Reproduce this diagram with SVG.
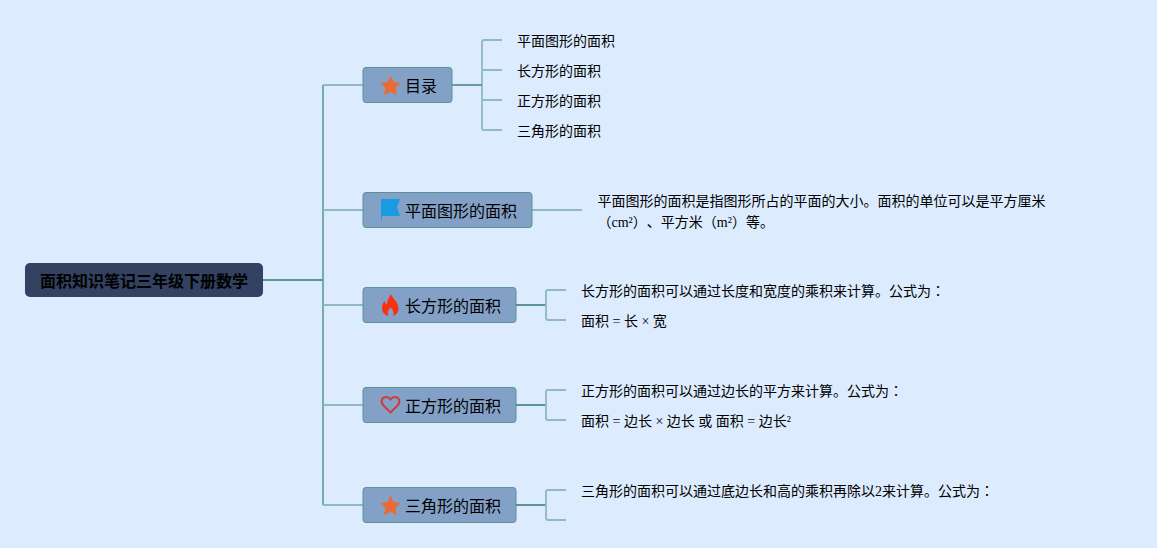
<svg xmlns="http://www.w3.org/2000/svg" width="1157" height="548" viewBox="0 0 1157 548">
<style>
text{font-family:"Liberation Serif","Noto Sans CJK JP",serif;fill:#000;text-spacing-trim:space-all}
.s{font-size:14px}
.m{font-size:16px}
.r{font-size:16px;font-weight:bold}
.n{fill:#83a1c7;stroke:#5b9193;stroke-width:1}
.c{fill:none;stroke-width:1.800}
.a{stroke:#8fbac0}
.b{stroke:#6aa5a0}
.d{stroke:#5a9490}
.st{fill:#e86b36;stroke:#e86b36;stroke-width:1;stroke-linejoin:round}
</style>
<rect width="1157" height="548" fill="#dcebfd"/>
<g id="connectors">
<path class="c b" d="M323 85V505"/>
<path class="c d" d="M263 280H323"/>
<path class="c a" d="M323 85H363M323 210H363M323 305H363M323 405H363M323 505H363"/>
<path class="c a" d="M502 40H484Q482 40 482 42V128Q482 130 484 130H502M482 70H502M482 100H502"/>
<path class="c d" d="M452 85H482"/>
<path class="c a" d="M532 210H582"/>
<path class="c d" d="M516 305H546M516 405H546M516 505H546"/>
<path class="c a" d="M566 290H548Q546 290 546 292V318Q546 320 548 320H566"/>
<path class="c a" d="M566 390H548Q546 390 546 392V418Q546 420 548 420H566"/>
<path class="c a" d="M566 490H548Q546 490 546 492V518Q546 520 548 520H566"/>
</g>
<g id="root"><rect x="25" y="263" width="238" height="34" rx="5" fill="#334260"/><text class="r" x="40" y="287">面积知识笔记三年级下册数学</text></g>
<g id="n1"><rect class="n" x="363" y="67.500" width="89" height="35" rx="3"/>
<path class="st" d="M390.500 76.500l2.800 6.100 6.600.8-4.900 4.500 1.300 6.600-5.800-3.300-5.800 3.300 1.300-6.600-4.900-4.500 6.600-.8z"/><text class="m" x="405" y="92">目录</text></g>
<g id="n2"><rect class="n" x="363" y="192.500" width="169" height="35" rx="3"/>
<path d="M381 199h19l-3 8 3 9h-18v4h-1z" fill="#1a9ae0"/><text class="m" x="405" y="217">平面图形的面积</text></g>
<g id="n3"><rect class="n" x="363" y="287.500" width="153" height="35" rx="3"/>
<path d="M391 294c1 4 7.500 8 7.500 14.500 0 4-2.500 6.500-5.500 7.500 1.500-3 .5-6-2.500-8.500-2.500 2.500-3.500 5.500-2 8.500-3.500-1-6.500-3.500-6.500-8 0-3 1-5 2.500-7 .5 1.500 1 2.500 2.500 3.500 0-4 2-7.500 4-10.500z" fill="#f7320f"/><text class="m" x="405" y="312">长方形的面积</text></g>
<g id="n4"><rect class="n" x="363" y="387.500" width="153" height="35" rx="3"/>
<path d="M390.500 412.500l-7-7c-4-4.500-1-8.500 2.500-8.500 2 0 3.500 1 4.500 2.500 1-1.500 2.500-2.500 4.500-2.500 3.500 0 6.500 4 2.500 8.500z" fill="none" stroke="#c9403f" stroke-width="2"/><text class="m" x="405" y="412">正方形的面积</text></g>
<g id="n5"><rect class="n" x="363" y="487.500" width="153" height="35" rx="3"/>
<path class="st" d="M390.500 496.500l2.800 6.100 6.600.8-4.900 4.500 1.300 6.600-5.800-3.300-5.800 3.300 1.300-6.600-4.900-4.500 6.600-.8z"/><text class="m" x="405" y="512">三角形的面积</text></g>
<g id="leaf1"><text class="s" x="517" y="46">平面图形的面积</text></g>
<g id="leaf2"><text class="s" x="517" y="76">长方形的面积</text></g>
<g id="leaf3"><text class="s" x="517" y="106">正方形的面积</text></g>
<g id="leaf4"><text class="s" x="517" y="136">三角形的面积</text></g>
<g id="leaf5"><text class="s" x="597.500" y="206">平面图形的面积是指图形所占的平面的大小。面积的单位可以是平方厘米</text><text class="s" x="597.500" y="227">（cm²）、平方米（m²）等。</text></g>
<g id="leaf6"><text class="s" x="581" y="296">长方形的面积可以通过长度和宽度的乘积来计算。公式为：</text></g>
<g id="leaf7"><text class="s" x="581" y="326">面积 = 长 × 宽</text></g>
<g id="leaf8"><text class="s" x="581" y="396">正方形的面积可以通过边长的平方来计算。公式为：</text></g>
<g id="leaf9"><text class="s" x="581" y="426">面积 = 边长 × 边长 或 面积 = 边长²</text></g>
<g id="leaf10"><text class="s" x="581" y="496">三角形的面积可以通过底边长和高的乘积再除以2来计算。公式为：</text></g>
</svg>
